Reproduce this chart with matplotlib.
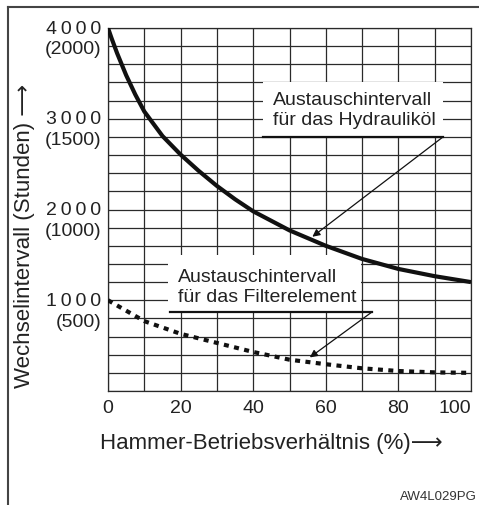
import matplotlib
matplotlib.use("Agg")
import matplotlib.pyplot as plt
from matplotlib.lines import Line2D
from matplotlib.patches import Rectangle

# Hammer duty ratio (%) and replacement intervals (hours)
duty_oil = [0, 1, 2.5, 5, 7.5, 10, 15, 20, 25, 30, 35, 40, 50, 60, 70, 80, 90, 100]
hours_oil = [4000, 3885, 3723, 3480, 3268, 3080, 2810, 2605, 2425, 2260, 2113,
             1980, 1770, 1600, 1455, 1345, 1265, 1200]
duty_filter = [0, 10, 20, 30, 40, 50, 60, 70, 80, 90, 100]
hours_filter = [1000, 770, 630, 530, 430, 345, 295, 250, 220, 205, 200]

y_ticks = [1000, 2000, 3000, 4000]
y_ticks_alt = ["(500)", "(1000)", "(1500)", "(2000)"]
x_ticks = [0, 20, 40, 60, 80, 100]

label_oil = "Austauschintervall\nfür das Hydrauliköl"
label_filter = "Austauschintervall\nfür das Filterelement"

plt.rcParams['font.family'] = ['Liberation Sans', 'DejaVu Sans']

W, H = 479, 506
fig = plt.figure(figsize=(W / 100, H / 100), dpi=100)
ax = fig.add_axes([108 / W, 1 - 392 / H, 363 / W, 363 / H])
ax.set_xlim(0, 100)
ax.set_ylim(0, 4000)

# grid: 10 columns, 20 rows
for gx in range(0, 101, 10):
    ax.axvline(gx, color='#2a2a2a', lw=0.9, zorder=1)
for gy in range(0, 4001, 200):
    ax.axhline(gy, color='#2a2a2a', lw=0.9, zorder=1)
for s in ax.spines.values():
    s.set_linewidth(0.9)
    s.set_color('#2a2a2a')

ax.tick_params(length=0, pad=6)
ax.set_xticks(x_ticks)
ax.set_xticklabels([str(v) for v in x_ticks], fontsize=14, color='#222')
ax.get_xticklabels()[-1].set_ha('right')
ax.set_yticks([])

for v, alt in zip(y_ticks, y_ticks_alt):
    ax.annotate("\u2009".join(str(v)), xy=(0, v), xycoords=('axes fraction', 'data'),
                xytext=(-5, 0), textcoords='offset points', ha='right', va='center',
                fontsize=14, color='#222')
    ax.annotate(alt, xy=(0, v), xycoords=('axes fraction', 'data'),
                xytext=(-5, -15), textcoords='offset points', ha='right', va='center',
                fontsize=14, color='#222')

# curves
ax.plot(duty_oil, hours_oil, color='#111', lw=3.0, solid_capstyle='butt',
        solid_joinstyle='round', zorder=4)
ax.plot(duty_filter, hours_filter, color='#111', lw=3.0, linestyle=(0, (1.2, 1.3)),
        dash_capstyle='butt', zorder=4)

# label boxes with underline and leader arrow
ax.add_patch(Rectangle((42.7, 2800), 92.3 - 42.7, 600, facecolor='white', edgecolor='none', zorder=2))
ax.plot([42.7, 92.3], [2800, 2800], color='#111', lw=1.6, zorder=3)
ax.text(45.5, 3100, label_oil, ha='left', va='center', fontsize=14, color='#222',
        linespacing=1.25, zorder=3)
ax.annotate("", xy=(56.3, 1700), xytext=(92.3, 2800),
            arrowprops=dict(arrowstyle='-|>', lw=0.9, color='#111', mutation_scale=11,
                            shrinkA=0, shrinkB=0), zorder=3)

ax.add_patch(Rectangle((16.5, 870), 69.8 - 16.5, 630, facecolor='white', edgecolor='none', zorder=2))
ax.plot([17.1, 72.7], [870, 870], color='#111', lw=1.6, zorder=3)
ax.text(19.3, 1155, label_filter, ha='left', va='center', fontsize=14, color='#222',
        linespacing=1.25, zorder=3)
ax.annotate("", xy=(55.6, 370), xytext=(72.7, 870),
            arrowprops=dict(arrowstyle='-|>', lw=0.9, color='#111', mutation_scale=11,
                            shrinkA=0, shrinkB=0), zorder=3)

# axis titles
fig.text(100 / W, 1 - 443 / H, "Hammer-Betriebsverhältnis (%)\u27f6", ha='left', va='center',
         fontsize=16, color='#222')
fig.text(25 / W, 1 - 388 / H, "Wechselintervall (Stunden) \u27f6", rotation=90,
         ha='center', va='bottom', fontsize=16, color='#222')
fig.text(477 / W, 1 - 497 / H, "AW4L029PG", ha='right', va='center', fontsize=9.5, color='#333')

# page frame (left and top edge)
fig.add_artist(Line2D([7.5 / W, 7.5 / W], [0, 1 - 7.5 / H], color='#444', lw=1.5))
fig.add_artist(Line2D([7.5 / W, 1], [1 - 7.5 / H, 1 - 7.5 / H], color='#444', lw=1.5))

fig.savefig("out.png", dpi=100)
